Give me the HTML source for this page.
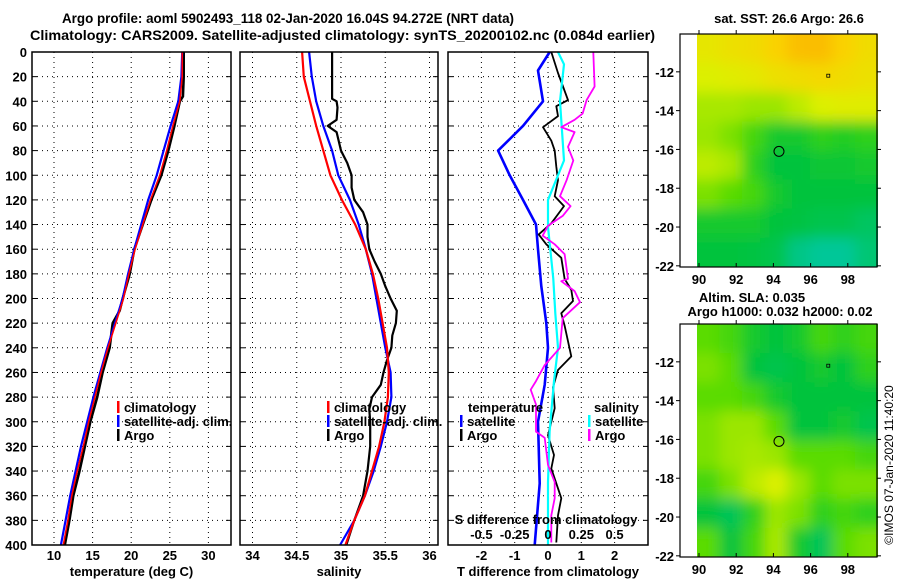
<!DOCTYPE html>
<html><head><meta charset="utf-8">
<style>
html,body{margin:0;padding:0;background:#fff;}
svg{display:block;font-family:"Liberation Sans",Arial,sans-serif;font-weight:bold;}
text{font-size:13px;fill:#000;}
</style></head>
<body>
<svg id="chart" width="900" height="580" viewBox="0 0 900 580" xmlns="http://www.w3.org/2000/svg">
<text x="62" y="23" textLength="452" lengthAdjust="spacingAndGlyphs" style="font-size:14px">Argo profile: aoml 5902493_118 02-Jan-2020 16.04S 94.272E (NRT data)</text>
<text x="30" y="40" textLength="625" lengthAdjust="spacingAndGlyphs" style="font-size:14px">Climatology: CARS2009. Satellite-adjusted climatology: synTS_20200102.nc (0.084d earlier)</text>
<text x="789" y="23" text-anchor="middle">sat. SST: 26.6 Argo: 26.6</text>
<text x="752" y="302" text-anchor="middle">Altim. SLA: 0.035</text>
<text x="780" y="316" text-anchor="middle">Argo h1000: 0.032 h2000: 0.02</text>
<text transform="translate(893,465) rotate(-90)" text-anchor="middle" style="font-weight:normal;font-size:12px">©IMOS 07-Jan-2020 11:40:20</text>
<g id="g"></g>
</svg>
<script>
// ---------- data ----------
const depthTicks = [0,20,40,60,80,100,120,140,160,180,200,220,240,260,280,300,320,340,360,380,400];
const tTicks = [10,15,20,25,30];
const sTicks = [34,34.5,35,35.5,36];
const sTickLabels = ["34","34.5","35","35.5","36"];
const dTicks = [-2,-1,0,1,2];
const dsTicks = [-0.5,-0.25,0,0.25,0.5];
const dsTickLabels = ["-0.5","-0.25","0","0.25","0.5"];

const climDepth = [0,20,40,60,80,100,120,140,160,180,200,220,240,260,280,300,320,340,360,380,400];
const climT = [26.6,26.6,26.3,25.4,24.6,23.7,22.5,21.5,20.5,19.7,19.0,18.0,17.0,16.1,15.3,14.5,13.8,13.0,12.3,11.8,11.2];
const satT  = [26.6,26.5,26.1,25.1,24.2,23.3,22.2,21.3,20.4,19.6,18.9,17.9,16.9,16.0,15.1,14.3,13.5,12.8,12.1,11.5,10.9];
const argoTDepth = [0,20,36,40,60,80,100,120,140,160,180,200,210,220,240,260,280,300,320,340,360,380,400];
const argoT = [26.8,26.8,26.7,26.3,25.6,24.8,23.9,22.6,21.5,20.4,19.8,18.9,18.5,17.6,17.2,16.3,15.6,14.7,14.0,13.3,12.5,12.0,11.4];

const climS = [34.56,34.58,34.65,34.72,34.80,34.88,35.01,35.16,35.28,35.36,35.42,35.47,35.52,35.54,35.53,35.49,35.43,35.35,35.27,35.15,35.05];
const satS  = [34.64,34.67,34.72,34.80,34.90,34.97,35.10,35.20,35.28,35.35,35.40,35.45,35.50,35.56,35.57,35.52,35.45,35.37,35.27,35.15,34.99];
const argoSDepth = [0,20,38,40,45,55,60,65,80,90,100,110,120,130,140,150,160,170,180,190,200,210,220,230,240,250,260,270,280,290,300,320,340,360,380,400];
const argoS = [34.9,34.9,34.9,34.95,34.96,34.95,34.85,34.95,35.0,35.07,35.12,35.12,35.15,35.25,35.3,35.3,35.32,35.38,35.45,35.5,35.56,35.63,35.62,35.58,35.57,35.52,35.48,35.45,35.35,35.32,35.33,35.33,35.3,35.25,35.15,35.06];

const satDTDepth = [0,15,40,60,80,100,120,140,160,190,220,240,270,300,350,400];
const satDT = [0.05,-0.3,-0.15,-0.75,-1.5,-1.15,-0.75,-0.36,-0.3,-0.2,-0.05,0,-0.1,-0.3,-0.25,-0.4];
const argoDTDepth = [0,17,28,39,44,52,61,72,80,93,104,117,125,139,148,156,167,184,193,202,212,222,247,258,272,289,311,327,338,362,376,398];
const argoDT = [0.1,0.3,0.45,0.6,0.25,0.3,-0.15,0.1,0.2,0.25,0.3,0.2,0.48,0.1,-0.28,-0.05,0.4,0.5,0.7,0.75,0.4,0.5,0.7,0.3,0.15,0.2,0,0.18,0.1,0.4,0.3,0.25];
const satDSDepth = [0,10,40,88,120,142,184,212,240,267,308,349,400];
const satDS = [0.075,0.12,0.09,0.12,0,0,0.04,0.055,0.075,0.045,0.012,0,0];
const argoDSDepth = [0,28,39,50,55,61,65,77,88,104,117,125,133,141,149,156,164,184,186,194,203,216,240,254,267,274,286,308,313,335,349,362,376,398];
const argoDS = [0.34,0.35,0.29,0.26,0.2,0.1,0.2,0.15,0.19,0.14,0.09,0.17,0.11,0,-0.04,0.05,0.125,0.15,0.1,0.2,0.24,0.11,0.09,-0.025,-0.09,-0.13,-0.09,-0.09,-0.025,0,0.05,0.05,0.025,0.025];

const mapLons = [90,92,94,96,98];
const mapLats = [-12,-14,-16,-18,-20,-22];
const sstGrid = [
 [0.75,0.78,0.80,0.85,0.92,0.93,0.85,0.80],
 [0.70,0.72,0.74,0.78,0.80,0.82,0.80,0.78],
 [0.62,0.62,0.60,0.60,0.65,0.70,0.72,0.72],
 [0.60,0.55,0.45,0.35,0.35,0.40,0.38,0.40],
 [0.65,0.62,0.40,0.30,0.30,0.32,0.32,0.35],
 [0.55,0.50,0.45,0.35,0.30,0.30,0.30,0.30],
 [0.35,0.35,0.35,0.30,0.28,0.25,0.25,0.20],
 [0.30,0.30,0.28,0.25,0.10,0.05,0.05,0.15]];
const slaGrid = [
 [0.50,0.45,0.35,0.30,0.35,0.45,0.40,0.45],
 [0.55,0.50,0.30,0.25,0.30,0.35,0.30,0.40],
 [0.50,0.50,0.45,0.35,0.30,0.30,0.30,0.30],
 [0.55,0.60,0.60,0.50,0.30,0.30,0.35,0.25],
 [0.55,0.60,0.62,0.60,0.50,0.50,0.50,0.45],
 [0.45,0.55,0.65,0.70,0.60,0.50,0.55,0.55],
 [0.30,0.22,0.40,0.60,0.55,0.40,0.45,0.40],
 [0.50,0.30,0.45,0.62,0.35,0.22,0.50,0.55]];
const argoLon = 94.3, argoLat = -16.1;

// ---------- helpers ----------
const NS="http://www.w3.org/2000/svg";
const G=document.getElementById('g');
function mk(tag,attrs,parent){const e=document.createElementNS(NS,tag);for(const k in attrs)e.setAttribute(k,attrs[k]);(parent||G).appendChild(e);return e;}
function txt(x,y,s,anchor,parent,size){const t=mk('text',{x:x,y:y,'text-anchor':anchor||'middle'},parent);if(size)t.style.fontSize=size+'px';t.textContent=s;return t;}
const Y0=52, YS=1.2325;
const yD=d=>Y0+d*YS;

function panel(name,x0,x1,ticks,labels,xf,xlabel){
  const g=mk('g',{});
  
  
  depthTicks.forEach(d=>{const y=yD(d);
    mk('line',{x1:x0,x2:x1,y1:y,y2:y,stroke:'#000','stroke-width':1,'stroke-dasharray':'1,4'},g);
    mk('line',{x1:x0,x2:x0+5,y1:y,y2:y,stroke:'#000'},g);
    mk('line',{x1:x1-5,x2:x1,y1:y,y2:y,stroke:'#000'},g);});
  ticks.forEach((v,i)=>{const x=xf(v);
    mk('line',{x1:x,x2:x,y1:Y0,y2:yD(400),stroke:'#000','stroke-dasharray':'1,4'},g);
    const t=txt(x,560,labels[i],'middle',g);
    
    });
  const xl=txt((x0+x1)/2,576,xlabel,'middle',g);
  
  
  return g;
}
function line(g,depths,vals,xf,color,name,w){
  const pts=depths.map((d,i)=>xf(vals[i]).toFixed(1)+','+yD(d).toFixed(1)).join(' ');
  const p=mk('polyline',{points:pts,fill:'none',stroke:color,'stroke-width':w||2.2,'stroke-linejoin':'round'},g);
  
  
}
function frame(g,x0,x1){mk('rect',{x:x0,y:Y0,width:x1-x0,height:yD(400)-Y0,fill:'none',stroke:'#000','stroke-width':1.5},g);}
function legend(g,x,y0,items){items.forEach((it,i)=>{const y=y0+i*14;
  const b=mk('rect',{x:x,y:y-6,width:2.5,height:12,fill:it[1]},g);
  
  
  const t=txt(x+7,y+5,it[0],'start',g);
  
  });}

depthTicks.forEach(d=>{const t=txt(27,yD(d)+5,String(d),'end');
  
  });

const xT=v=>54+(v-10)*7.72;
const p1=panel('temperature-panel',32,231,tTicks,tTicks.map(String),xT,'temperature (deg C)');
line(p1,argoTDepth,argoT,xT,'#000','argo-temperature-line',2.6);
line(p1,climDepth,satT,xT,'#0000ff','satellite-temperature-line');
line(p1,climDepth,climT,xT,'#ff0000','climatology-temperature-line',1.6);
legend(p1,117,407,[['climatology','#ff0000'],['satellite-adj. clim.','#0000ff'],['Argo','#000']]);
frame(p1,32,231);

const xS=v=>341+(v-35)*88.5;
const p2=panel('salinity-panel',240,438,sTicks,sTickLabels,xS,'salinity');
line(p2,argoSDepth,argoS,xS,'#000','argo-salinity-line',2.2);
line(p2,climDepth,satS,xS,'#0000ff','satellite-salinity-line');
line(p2,climDepth,climS,xS,'#ff0000','climatology-salinity-line');
legend(p2,327,407,[['climatology','#ff0000'],['satellite-adj. clim.','#0000ff'],['Argo','#000']]);
frame(p2,240,438);

const xDT=v=>548+v*33.3;
const xDS=v=>548+v*133.2;
const p3=panel('difference-panel',448,648,dTicks,dTicks.map(String),xDT,'T difference from climatology');
line(p3,satDTDepth,satDT,xDT,'#0000ff','satellite-t-difference-line',2.6);
line(p3,argoDTDepth,argoDT,xDT,'#000','argo-t-difference-line',1.8);
line(p3,satDSDepth,satDS,xDS,'#00ffff','satellite-s-difference-line',2.2);
line(p3,argoDSDepth,argoDS,xDS,'#ff00ff','argo-s-difference-line',1.8);
let tt=txt(468,412,'temperature','start',p3);


let ts=txt(594,412,'salinity','start',p3);


legend(p3,460,421,[['satellite','#0000ff'],['Argo','#000']]);
legend(p3,588,421,[['satellite','#00ffff'],['Argo','#ff00ff']]);
let sd=txt(546,524,'S difference from climatology','middle',p3);


dsTicks.forEach((v,i)=>{const t=txt(xDS(v),539,dsTickLabels[i],'middle',p3);
  
  });
frame(p3,448,648);

function color(v){
  const stops=[[0,[0,200,170]],[0.3,[0,195,60]],[0.5,[90,220,0]],[0.7,[220,240,0]],[0.85,[250,210,0]],[1,[250,170,0]]];
  for(let i=1;i<stops.length;i++){if(v<=stops[i][0]){const a=stops[i-1],b=stops[i],f=(v-a[0])/(b[0]-a[0]);
    return 'rgb('+a[1].map((c,k)=>Math.round(c+(b[1][k]-c)*f)).join(',')+')';}}
  return 'rgb(250,170,0)';
}
function map(name,top,grid,blurId){
  const bot=top+233;
  const lx=v=>699+(v-90)*18.6;
  const ly=v=>top+(-10.05-v)*19.4;
  const g=mk('g',{});
  
  
  const defs=mk('defs',{},g);
  const cp=mk('clipPath',{id:'c'+blurId},defs);
  mk('rect',{x:697,y:top,width:181,height:233},cp);
  const f=mk('filter',{id:blurId,filterUnits:'userSpaceOnUse',x:600,y:top-100,width:400,height:450},defs);
  mk('feGaussianBlur',{stdDeviation:7},f);
  const cg=mk('g',{'clip-path':'url(#c'+blurId+')'},g);
  const inner=mk('g',{filter:'url(#'+blurId+')'},cg);
  const rows=grid.length, cols=grid[0].length;
  const lon0=89.9, lon1=99.6;
  const cw=(lon1-lon0)/cols, ch=12/rows;
  grid.forEach((row,r)=>row.forEach((v,c)=>{
    const x=lx(lon0+c*cw), y=ly(-10.05-r*ch);
    const pad=(c==0?-25:0), padR=(c==cols-1?25:0), padT=(r==0?-25:0), padB=(r==rows-1?25:0);
    const cell=mk('rect',{x:x+pad,y:y+padT,width:lx(lon0+(c+1)*cw)-x-pad+padR+0.5,height:ly(-10.05-(r+1)*ch)-y-padT+padB+0.5,fill:color(v)},inner);
    
    
  }));
  mk('rect',{x:680,y:top,width:197,height:233,fill:'none',stroke:'#000','stroke-width':1.2},g);
  mapLons.forEach(v=>{const x=lx(v);
    mk('line',{x1:x,x2:x,y1:bot,y2:bot-4,stroke:'#000'},g);
    mk('line',{x1:x,x2:x,y1:top,y2:top-4,stroke:'#000'},g);
    const t=txt(x,bot+17,String(v),'middle',g);
    
    });
  mapLats.forEach(v=>{const y=ly(v);
    mk('line',{x1:680,x2:676,y1:y,y2:y,stroke:'#000'},g);
    mk('line',{x1:877,x2:881,y1:y,y2:y,stroke:'#000'},g);
    const t=txt(674,y+5,String(v),'end',g);
    
    });
  const m=mk('circle',{cx:lx(argoLon),cy:ly(argoLat),r:5,fill:'none',stroke:'#000','stroke-width':1},g);
  
  
  mk('rect',{x:lx(96.95)-1.5,y:ly(-12.2)-1.5,width:3,height:3,fill:'none',stroke:'#000','stroke-width':0.8},g);
}
map('sst-map',34,sstGrid,'b1');
map('sla-map',324,slaGrid,'b2');
</script>
</body></html>
